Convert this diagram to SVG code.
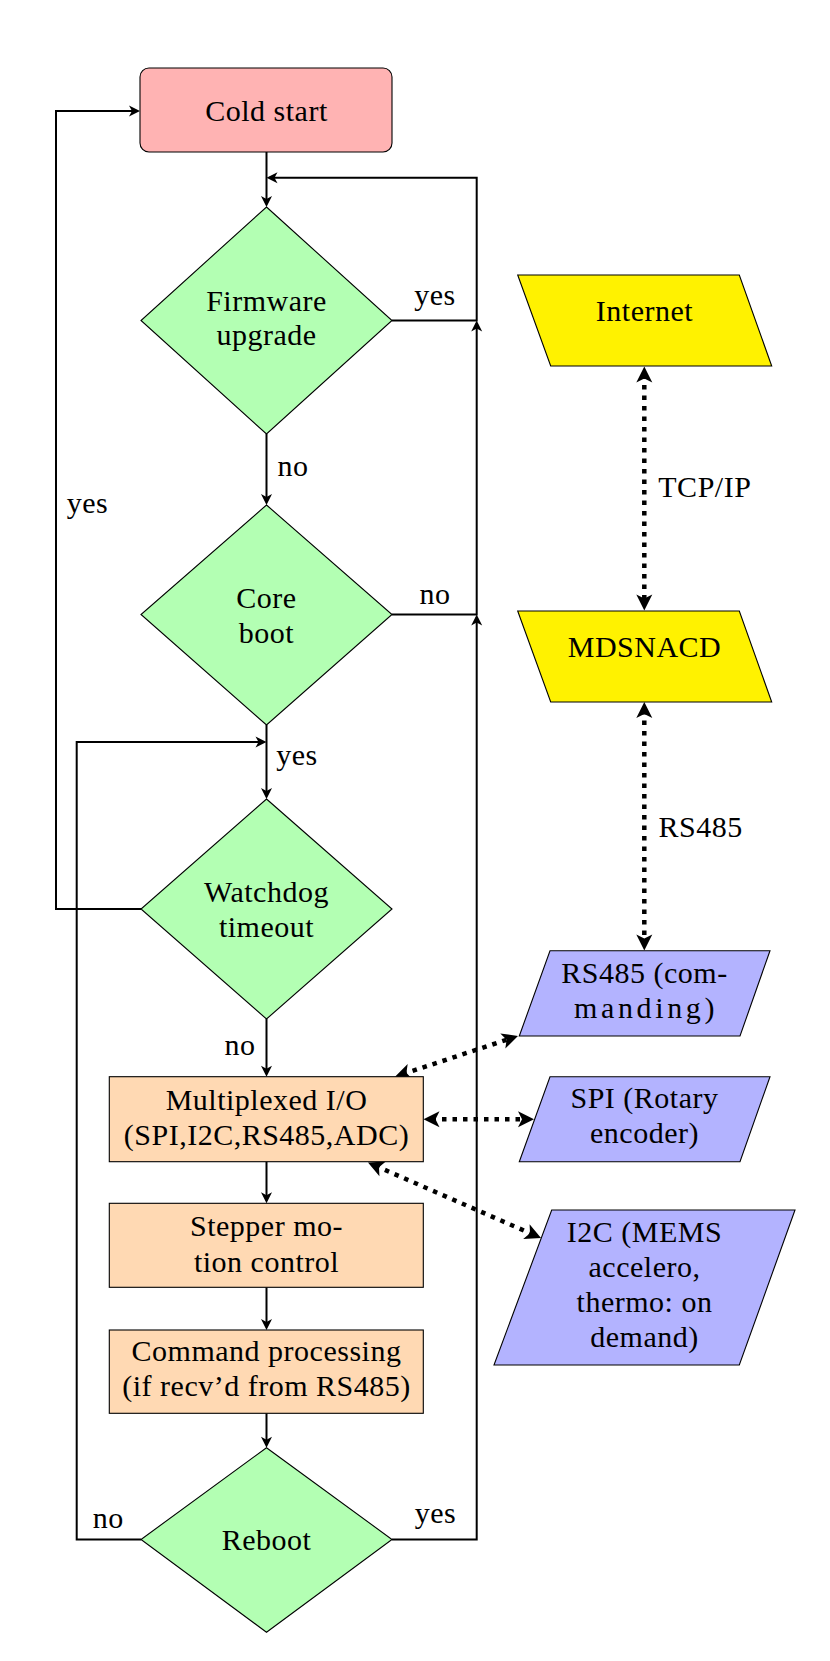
<svg xmlns="http://www.w3.org/2000/svg" width="830" height="1661" viewBox="0 0 830 1661" font-family="'Liberation Serif', 'DejaVu Serif', serif">
  <style>
    text { font-family: "Liberation Serif", "DejaVu Serif", serif; font-size: 30px; fill: #000; letter-spacing: 0.5px; }
    .c { text-anchor: middle; }
    .node { stroke: #000; stroke-width: 1.1; }
    .start { fill: #ffb3b3; }
    .dec { fill: #b3ffb3; }
    .proc { fill: #ffd9b3; }
    .ext { fill: #fff200; }
    .io { fill: #b3b3ff; }
    .flow { fill: none; stroke: #000; stroke-width: 2; marker-end: url(#ah); }
    .dot { fill: none; stroke: #000; stroke-width: 4.5; stroke-dasharray: 4.5 6; marker-start: url(#dh); marker-end: url(#dh); }
  </style>
  <defs>
    <marker id="ah" markerUnits="userSpaceOnUse" viewBox="-10 -7 14 14" markerWidth="14" markerHeight="14" refX="0" refY="0" orient="auto-start-reverse" overflow="visible">
      <path d="M 3 0 L -8 -5.5 L -5 0 L -8 5.5 Z" fill="#000"/>
    </marker>
    <marker id="dh" markerUnits="userSpaceOnUse" viewBox="-10 -9 20 18" markerWidth="20" markerHeight="18" refX="0" refY="0" orient="auto-start-reverse" overflow="visible">
      <path d="M 8 0 L -8 -8 L -4 0 L -8 8 Z" fill="#000"/>
    </marker>
  </defs>

  <g id="connectors">
    <path class="flow" d="M266.5 152 V204"/>
    <path class="flow" d="M266.5 434 V502"/>
    <path class="flow" d="M266.5 725 V796"/>
    <path class="flow" d="M266.5 1019 V1073.7"/>
    <path class="flow" d="M266.5 1161.7 V1200.3"/>
    <path class="flow" d="M266.5 1287.3 V1327"/>
    <path class="flow" d="M266.5 1413.3 V1444.7"/>
    <path class="flow" d="M392 320.5 H476.7 V177.7 H269.5"/>
    <path class="flow" d="M392 614.5 H476.7 V323.5"/>
    <path class="flow" d="M392 1539.5 H476.7 V617.5"/>
    <path class="flow" d="M141 909 H56 V111 H137"/>
    <path class="flow" d="M141 1539.5 H76.7 V742 H263.5"/>
    <path class="dot" d="M644.3 374.5 V602.5"/>
    <path class="dot" d="M644.3 710 V942.5"/>
    <path class="dot" d="M402.6 1074.2 L510.4 1038.5"/>
    <path class="dot" d="M431.5 1119.3 H526"/>
    <path class="dot" d="M375.3 1165.7 L533.7 1234.8"/>
    <text class="c" x="435" y="305">yes</text>
    <text class="c" x="293" y="476">no</text>
    <text class="c" x="87.5" y="513">yes</text>
    <text class="c" x="435" y="604">no</text>
    <text class="c" x="297" y="765">yes</text>
    <text class="c" x="240" y="1055">no</text>
    <text class="c" x="108.3" y="1528">no</text>
    <text class="c" x="435.5" y="1523">yes</text>
    <text x="658.3" y="497">TCP/IP</text>
    <text x="658.5" y="837">RS485</text>
  </g>

  <g id="cold-start">
    <rect class="node start" x="140" y="68" width="252" height="84" rx="9"/>
    <text class="c" x="266.5" y="121">Cold start</text>
  </g>
  <g id="firmware-upgrade">
    <polygon class="node dec" points="266.5,207 392,320.5 266.5,434 141,320.5"/>
    <text class="c" x="266.5" y="311">Firmware</text>
    <text class="c" x="266.5" y="345">upgrade</text>
  </g>
  <g id="core-boot">
    <polygon class="node dec" points="266.5,505 392,614.5 266.5,725 141,614.5"/>
    <text class="c" x="266.5" y="608">Core</text>
    <text class="c" x="266.5" y="643">boot</text>
  </g>
  <g id="watchdog-timeout">
    <polygon class="node dec" points="266.5,799 392,909 266.5,1019 141,909"/>
    <text class="c" x="266.5" y="902">Watchdog</text>
    <text class="c" x="266.5" y="937">timeout</text>
  </g>
  <g id="multiplexed-io">
    <rect class="node proc" x="109.3" y="1076.7" width="314" height="85"/>
    <text class="c" x="266.5" y="1110">Multiplexed I/O</text>
    <text class="c" x="266.5" y="1145">(SPI,I2C,RS485,ADC)</text>
  </g>
  <g id="stepper-motion">
    <rect class="node proc" x="109.3" y="1203.3" width="314" height="84"/>
    <text class="c" x="266.5" y="1236">Stepper mo-</text>
    <text class="c" x="266.5" y="1272">tion control</text>
  </g>
  <g id="command-processing">
    <rect class="node proc" x="109.3" y="1330" width="314" height="83.3"/>
    <text class="c" x="266.5" y="1361">Command processing</text>
    <text class="c" x="266.5" y="1396">(if recv’d from RS485)</text>
  </g>
  <g id="reboot">
    <polygon class="node dec" points="266.5,1447.7 392,1539.5 266.5,1632.3 141,1539.5"/>
    <text class="c" x="266.5" y="1550">Reboot</text>
  </g>
  <g id="internet">
    <polygon class="node ext" points="517.7,275 739.3,275 771.7,366 550.7,366"/>
    <text class="c" x="644.5" y="321">Internet</text>
  </g>
  <g id="mdsnacd">
    <polygon class="node ext" points="517.7,611 739.3,611 771.7,702 550.7,702"/>
    <text class="c" x="644.5" y="657">MDSNACD</text>
  </g>
  <g id="rs485-commanding">
    <polygon class="node io" points="550,950.7 770,950.7 740,1036 519.3,1036"/>
    <text class="c" x="644.5" y="983">RS485 (com-</text>
    <text class="c" x="644.5" y="1018" textLength="141" lengthAdjust="spacing">manding)</text>
  </g>
  <g id="spi-encoder">
    <polygon class="node io" points="550,1076.7 770,1076.7 740,1161.7 519.3,1161.7"/>
    <text class="c" x="644.5" y="1108">SPI (Rotary</text>
    <text class="c" x="644.5" y="1143">encoder)</text>
  </g>
  <g id="i2c-mems">
    <polygon class="node io" points="551.7,1210 795,1210 739.3,1365 494,1365"/>
    <text class="c" x="644.5" y="1242">I2C (MEMS</text>
    <text class="c" x="644.5" y="1277">accelero,</text>
    <text class="c" x="644.5" y="1312">thermo: on</text>
    <text class="c" x="644.5" y="1347">demand)</text>
  </g>
</svg>
